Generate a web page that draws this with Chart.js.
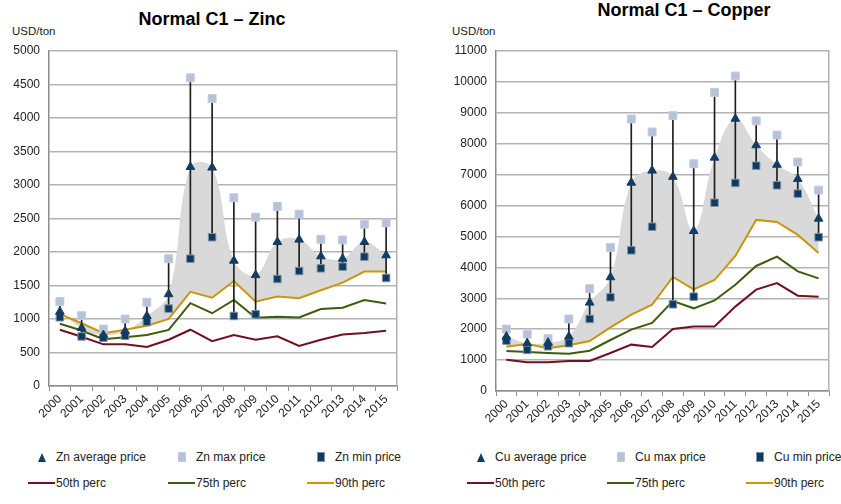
<!DOCTYPE html>
<html>
<head>
<meta charset="utf-8">
<script src="https://cdn.jsdelivr.net/npm/chart.js@4.4.1/dist/chart.umd.min.js"></script>
<style>
  body { margin: 0; background: #fff; font-family: 'Liberation Sans', Arial, sans-serif; }
  #wrap { position: relative; width: 841px; height: 504px; overflow: hidden; }
  canvas { position: absolute; top: 0; }
  .title { position: absolute; font-weight: bold; font-size: 18px; color: #000; text-align: center; white-space: nowrap; }
  .unit { position: absolute; font-size: 11.5px; color: #222; }
  .legend { position: absolute; top: 448px; font-size: 12px; color: #222; }
  .item { position: absolute; display: flex; align-items: center; height: 16px; white-space: nowrap; }
  .sw { width: 27px; height: 16px; display: flex; align-items: center; justify-content: center; margin-right: 1px; }
</style>
</head>
<body>
<div id="wrap">
  <div class="title" style="left:0;width:424px;top:9px">Normal C1 – Zinc</div>
  <div class="unit" style="left:12px;top:25px">USD/ton</div>
  <div class="title" style="left:474px;width:420px;top:0px">Normal C1 – Copper</div>
  <div class="unit" style="left:452px;top:25px">USD/ton</div>
  <canvas id="zn" width="420" height="440" style="left:0"></canvas>
  <canvas id="cu" width="421" height="440" style="left:420px"></canvas>
  <div class="legend" id="znLegend" style="left:28px"></div>
  <div class="legend" id="cuLegend" style="left:467px"></div>
</div>
<script>
// years on the x axis
var years = ['2000', '2001', '2002', '2003', '2004', '2005', '2006', '2007',
             '2008', '2009', '2010', '2011', '2012', '2013', '2014', '2015'];

// Zinc, USD/ton
var znAvg = [1110, 865, 760, 820, 1045, 1370, 3270, 3260, 1870, 1655, 2150, 2185, 1935, 1900, 2150, 1950];
var znMax = [1260, 1050, 850, 1000, 1250, 1900, 4600, 4290, 2810, 2520, 2680, 2565, 2190, 2180, 2415, 2435];
var znMin = [1025, 740, 720, 750, 955, 1155, 1900, 2220, 1045, 1070, 1597, 1716, 1756, 1781, 1930, 1612];
var zn50 = [840, 735, 622, 622, 582, 690, 840, 668, 762, 690, 742, 598, 690, 768, 790, 826];
var zn75 = [928, 828, 698, 728, 762, 838, 1236, 1086, 1284, 1020, 1032, 1022, 1150, 1168, 1282, 1230];
var zn90 = [1072, 936, 788, 838, 900, 1002, 1405, 1318, 1568, 1258, 1336, 1310, 1430, 1542, 1708, 1710];

// Copper, USD/ton
var cuAvg = [1760, 1545, 1560, 1760, 2860, 3680, 6740, 7130, 6930, 5175, 7550, 8810, 7950, 7320, 6860, 5575];
var cuMax = [2005, 1840, 1695, 2330, 3310, 4640, 8800, 8380, 8910, 7350, 9660, 10190, 8740, 8280, 7410, 6500];
var cuMin = [1628, 1330, 1445, 1545, 2330, 3030, 4550, 5315, 2805, 3053, 6090, 6730, 7290, 6655, 6385, 4975];
var cu50 = [1013, 928, 930, 970, 970, 1230, 1500, 1424, 2006, 2090, 2090, 2730, 3280, 3490, 3085, 3050];
var cu75 = [1294, 1265, 1230, 1208, 1305, 1650, 1985, 2200, 2910, 2675, 2930, 3440, 4045, 4345, 3870, 3645];
var cu90 = [1434, 1520, 1380, 1480, 1618, 2060, 2470, 2795, 3690, 3290, 3590, 4370, 5535, 5470, 5050, 4465];

var FONT = "'Liberation Sans', Arial, sans-serif";

function makeChart(id, legendId, metal, avg, max, min, p50, p75, p90, yMax, yStep, yWidth, xHeight, padRight) {
  var ranges = min.map(function (v, i) { return [v, max[i]]; });

  var datasets = [
    // grey band: smoothed average down to the 90th percentile line
    { type: 'line', data: avg, tension: 0.4, borderWidth: 0, pointRadius: 0,
      backgroundColor: '#D9D9D9', fill: 7, order: 10 },
    { type: 'line', label: metal + ' average price', data: avg, showLine: false,
      pointStyle: 'triangle', pointRadius: 5, pointBackgroundColor: '#123C63',
      pointBorderColor: '#123C63', pointBorderWidth: 1, order: 1 },
    { type: 'line', label: metal + ' max price', data: max, showLine: false,
      pointStyle: 'rect', pointRadius: 5.6, pointBackgroundColor: '#B7C2D8',
      pointBorderColor: '#C4CDE0', pointBorderWidth: 1, order: 2 },
    { type: 'line', label: metal + ' min price', data: min, showLine: false,
      pointStyle: 'rect', pointRadius: 5.3, pointBackgroundColor: '#0E3B5F',
      pointBorderColor: '#7F93A8', pointBorderWidth: 1, order: 2 },
    // high-low lines
    { type: 'bar', data: ranges, barThickness: 1, backgroundColor: '#1E1E1E', order: 3 },
    { type: 'line', label: '50th perc', data: p50, borderColor: '#701020', borderWidth: 2,
      pointRadius: 0, tension: 0, order: 5 },
    { type: 'line', label: '75th perc', data: p75, borderColor: '#3D5C0C', borderWidth: 2,
      pointRadius: 0, tension: 0, order: 5 },
    { type: 'line', label: '90th perc', data: p90, borderColor: '#C9960C', borderWidth: 2,
      pointRadius: 0, tension: 0, order: 5 }
  ];

  var chart = new Chart(document.getElementById(id), {
    data: { labels: years, datasets: datasets },
    options: {
      responsive: false,
      animation: false,
      devicePixelRatio: 1,
      layout: { padding: { top: 51, right: padRight, left: 0, bottom: 0 } },
      plugins: { legend: { display: false }, tooltip: { enabled: false } },
      scales: {
        x: {
          offset: true,
          grid: { display: true, drawOnChartArea: false, drawTicks: true, tickLength: 5,
                  offset: true, color: '#8C8C8C', lineWidth: 1 },
          border: { display: true, color: '#8C8C8C', width: 1.5 },
          ticks: { autoSkip: false, maxRotation: 45, minRotation: 45, padding: 1,
                   color: '#222', font: { family: FONT, size: 12 } },
          afterFit: function (s) { s.height = xHeight; }
        },
        y: {
          min: 0, max: yMax,
          grid: { color: '#B3B3B3', lineWidth: 1.5, drawTicks: false },
          border: { display: true, color: '#8C8C8C', width: 1.5 },
          ticks: { stepSize: yStep, padding: 9, color: '#222', font: { family: FONT, size: 12 },
                   callback: function (v) { return String(v); } },
          afterFit: function (s) { s.width = yWidth; }
        },
        y2: {
          position: 'right', min: 0, max: yMax,
          grid: { display: false },
          border: { display: true, color: '#B3B3B3', width: 1.5 },
          ticks: { display: false },
          afterFit: function (s) { s.width = 0; }
        }
      }
    }
  });

  // legend laid out in two rows of three, like the original
  var box = document.getElementById(legendId);
  var cols = [0, 140, 279];
  var n = 0;
  chart.data.datasets.forEach(function (ds) {
    if (!ds.label) return;
    var item = document.createElement('div');
    item.className = 'item';
    item.style.left = cols[n % 3] + 'px';
    item.style.top = (n < 3 ? 1 : 27) + 'px';
    var sw = document.createElement('div');
    sw.className = 'sw';
    var mark = document.createElement('div');
    if (ds.showLine === false && ds.pointStyle === 'triangle') {
      mark.style.cssText = 'width:0;height:0;border-left:4px solid transparent;border-right:4px solid transparent;border-bottom:9px solid ' + ds.pointBackgroundColor;
    } else if (ds.showLine === false) {
      mark.style.cssText = 'width:6px;height:8px;background:' + ds.pointBackgroundColor + ';border:1px solid ' + ds.pointBorderColor;
    } else {
      mark.style.cssText = 'width:27px;height:2px;background:' + ds.borderColor;
    }
    sw.appendChild(mark);
    item.appendChild(sw);
    var txt = document.createElement('span');
    txt.textContent = ds.label;
    item.appendChild(txt);
    box.appendChild(item);
    n++;
  });
  return chart;
}

makeChart('zn', 'znLegend', 'Zn', znAvg, znMax, znMin, zn50, zn75, zn90, 5000, 500, 49, 54, 23);
makeChart('cu', 'cuLegend', 'Cu', cuAvg, cuMax, cuMin, cu50, cu75, cu90, 11000, 1000, 76, 49, 12);
</script>
</body>
</html>
